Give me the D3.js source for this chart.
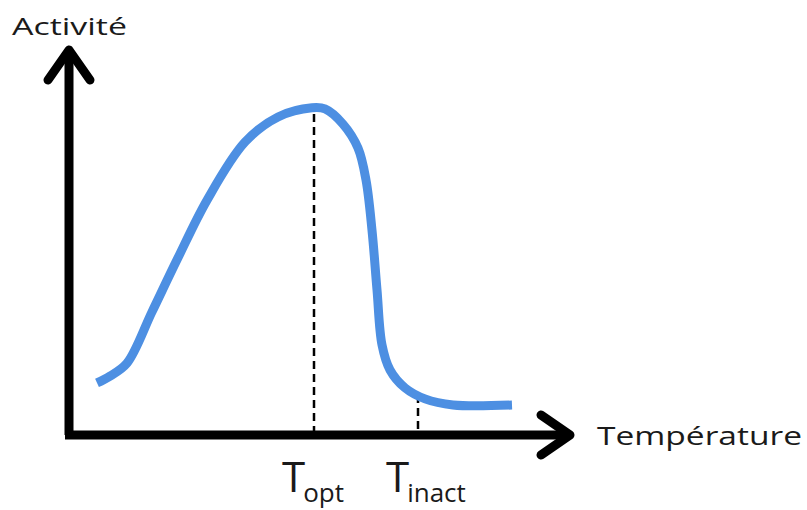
<!DOCTYPE html>
<html>
<head>
<meta charset="utf-8">
<script src="https://cdn.jsdelivr.net/npm/d3@7"></script>
<style>
  body { margin: 0; background: #fff; }
  text { font-family: "Open Sans", "DejaVu Sans", sans-serif; fill: #1a1a1a; }
</style>
</head>
<body>
<div class="chart"></div>
<script>
// temperature (0-100, arbitrary) and activity (0-100, arbitrary)
var temperature = [5.6, 8.2, 11.6, 16.6, 21.6, 27.6, 35.2, 41.8, 48.6, 51.2, 54.8, 57.8, 59.4, 60.6, 61.6, 62.6, 64.2, 67.2, 71.2, 76.8, 88.6];
var activity    = [13.7, 15.5, 18.9, 32.4, 46.1, 61.8, 77.1, 83.7, 86.1, 85.8, 81.8, 75.5, 67.1, 53.9, 38.2, 23.7, 17.1, 12.4, 9.5, 7.9, 7.9];
var markNames = ["opt", "inact"];
var markTemps = [49.0, 69.8];
var markTops  = [84.5, 10.5];

var width = 807, height = 510;

var svg = d3.select(".chart")
    .append("svg")
    .attr("width", width)
    .attr("height", height);

var x = d3.scaleLinear().domain([0, 100]).range([69, 569]);
var y = d3.scaleLinear().domain([0, 100]).range([435, 55]);

var data = temperature.map(function(t, i){ return {t: t, a: activity[i]}; });

// axes with arrow heads
var axisG = svg.append("g")
    .attr("fill", "none")
    .attr("stroke", "#000")
    .attr("stroke-width", 9)
    .attr("stroke-linejoin", "round");

axisG.append("path")
    .attr("d", "M" + (x(0) - 4) + "," + y(0) + "H" + (x(100) - 2) + "M" + x(0) + "," + y(0) + "V" + (y(100) - 4));
axisG.append("path")
    .attr("stroke-linecap", "round")
    .attr("d", "M" + (x(0) - 21) + "," + (y(100) + 25) + "L" + x(0) + "," + (y(100) - 5) + "L" + (x(0) + 21) + "," + (y(100) + 25));
axisG.append("path")
    .attr("stroke-linecap", "round")
    .attr("d", "M" + (x(100) - 28) + "," + (y(0) - 20) + "L" + (x(100) + 1) + "," + y(0) + "L" + (x(100) - 28) + "," + (y(0) + 20));

// dashed markers
svg.selectAll(".marker")
    .data(markTemps)
    .enter()
    .append("line")
    .attr("class", "marker")
    .attr("x1", function(d){ return x(d); })
    .attr("x2", function(d){ return x(d); })
    .attr("y1", function(d, i){ return y(markTops[i]); })
    .attr("y2", y(0) - 4)
    .attr("stroke", "#000")
    .attr("stroke-width", 2.5)
    .attr("stroke-dasharray", "8,5");

// activity curve
var line = d3.line()
    .x(function(d){ return x(d.t); })
    .y(function(d){ return y(d.a); })
    .curve(d3.curveCatmullRom.alpha(0.5));

svg.append("path")
    .datum(data)
    .attr("fill", "none")
    .attr("stroke", "#4d8fe2")
    .attr("stroke-width", 9)
    .attr("stroke-linejoin", "round")
    .attr("d", line);

// labels
svg.append("text")
    .attr("x", 12)
    .attr("y", 35)
    .attr("font-size", 24)
    .attr("textLength", 115)
    .attr("lengthAdjust", "spacingAndGlyphs")
    .text("Activité");

svg.append("text")
    .attr("x", 597)
    .attr("y", 445)
    .attr("font-size", 25)
    .attr("textLength", 205)
    .attr("lengthAdjust", "spacingAndGlyphs")
    .text("Température");

var tLabels = svg.selectAll(".tlabel")
    .data(markNames)
    .enter()
    .append("text")
    .attr("class", "tlabel")
    .attr("x", function(d, i){ return x(markTemps[i]) - 32; })
    .attr("y", 492);

tLabels.append("tspan")
    .attr("font-size", 42)
    .text("T");
tLabels.append("tspan")
    .attr("font-size", 26)
    .attr("dy", 10)
    .attr("dx", -2)
    .text(function(d){ return d; });
</script>
</body>
</html>
